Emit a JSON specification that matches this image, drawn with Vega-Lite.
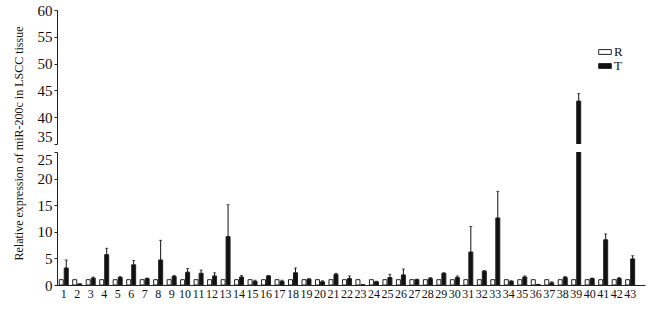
{
  "$schema": "https://vega.github.io/schema/vega-lite/v6.json",
  "background": "white",
  "padding": {"left": 11, "top": 3, "right": 5, "bottom": 4},
  "bounds": "flush",
  "config": {
    "font": "Liberation Serif",
    "view": {"stroke": null},
    "axis": {"labelFont": "Liberation Serif", "titleFont": "Liberation Serif", "labelColor": "#111", "titleColor": "#111", "domainColor": "#222", "tickColor": "#222", "grid": false, "titleFontWeight": "normal", "labelOverlap": false},
    "legend": {"labelFont": "Liberation Serif"}
  },
  "data": {
    "values": [
      {"id": 1, "g": "R", "v": 1, "hi": 1}, {"id": 1, "g": "T", "v": 3.2, "hi": 4.7},
      {"id": 2, "g": "R", "v": 1, "hi": 1}, {"id": 2, "g": "T", "v": 0.2, "hi": 0.2},
      {"id": 3, "g": "R", "v": 1, "hi": 1}, {"id": 3, "g": "T", "v": 1.3, "hi": 1.5},
      {"id": 4, "g": "R", "v": 1, "hi": 1}, {"id": 4, "g": "T", "v": 5.7, "hi": 6.9},
      {"id": 5, "g": "R", "v": 1, "hi": 1}, {"id": 5, "g": "T", "v": 1.4, "hi": 1.6},
      {"id": 6, "g": "R", "v": 1, "hi": 1}, {"id": 6, "g": "T", "v": 3.8, "hi": 4.6},
      {"id": 7, "g": "R", "v": 1, "hi": 1}, {"id": 7, "g": "T", "v": 1.2, "hi": 1.3},
      {"id": 8, "g": "R", "v": 1, "hi": 1}, {"id": 8, "g": "T", "v": 4.7, "hi": 8.4},
      {"id": 9, "g": "R", "v": 1, "hi": 1}, {"id": 9, "g": "T", "v": 1.6, "hi": 1.8},
      {"id": 10, "g": "R", "v": 1, "hi": 1}, {"id": 10, "g": "T", "v": 2.4, "hi": 3.1},
      {"id": 11, "g": "R", "v": 1, "hi": 1}, {"id": 11, "g": "T", "v": 2.2, "hi": 2.8},
      {"id": 12, "g": "R", "v": 1, "hi": 1}, {"id": 12, "g": "T", "v": 1.7, "hi": 2.3},
      {"id": 13, "g": "R", "v": 1, "hi": 1}, {"id": 13, "g": "T", "v": 9.1, "hi": 15.1},
      {"id": 14, "g": "R", "v": 1, "hi": 1}, {"id": 14, "g": "T", "v": 1.5, "hi": 1.8},
      {"id": 15, "g": "R", "v": 1, "hi": 1}, {"id": 15, "g": "T", "v": 0.7, "hi": 0.9},
      {"id": 16, "g": "R", "v": 1, "hi": 1}, {"id": 16, "g": "T", "v": 1.7, "hi": 1.8},
      {"id": 17, "g": "R", "v": 1, "hi": 1}, {"id": 17, "g": "T", "v": 0.7, "hi": 0.9},
      {"id": 18, "g": "R", "v": 1, "hi": 1}, {"id": 18, "g": "T", "v": 2.3, "hi": 3.2},
      {"id": 19, "g": "R", "v": 1, "hi": 1}, {"id": 19, "g": "T", "v": 1.1, "hi": 1.2},
      {"id": 20, "g": "R", "v": 1, "hi": 1}, {"id": 20, "g": "T", "v": 0.6, "hi": 0.8},
      {"id": 21, "g": "R", "v": 1, "hi": 1}, {"id": 21, "g": "T", "v": 2.0, "hi": 2.2},
      {"id": 22, "g": "R", "v": 1, "hi": 1}, {"id": 22, "g": "T", "v": 1.2, "hi": 1.7},
      {"id": 23, "g": "R", "v": 1, "hi": 1}, {"id": 23, "g": "T", "v": 0.05, "hi": 0.05},
      {"id": 24, "g": "R", "v": 1, "hi": 1}, {"id": 24, "g": "T", "v": 0.6, "hi": 0.7},
      {"id": 25, "g": "R", "v": 1, "hi": 1}, {"id": 25, "g": "T", "v": 1.4, "hi": 2.0},
      {"id": 26, "g": "R", "v": 1, "hi": 1}, {"id": 26, "g": "T", "v": 1.9, "hi": 3.0},
      {"id": 27, "g": "R", "v": 1, "hi": 1}, {"id": 27, "g": "T", "v": 1.0, "hi": 1.1},
      {"id": 28, "g": "R", "v": 1, "hi": 1}, {"id": 28, "g": "T", "v": 1.2, "hi": 1.4},
      {"id": 29, "g": "R", "v": 1, "hi": 1}, {"id": 29, "g": "T", "v": 2.2, "hi": 2.3},
      {"id": 30, "g": "R", "v": 1, "hi": 1}, {"id": 30, "g": "T", "v": 1.4, "hi": 1.7},
      {"id": 31, "g": "R", "v": 1, "hi": 1}, {"id": 31, "g": "T", "v": 6.2, "hi": 11.0},
      {"id": 32, "g": "R", "v": 1, "hi": 1}, {"id": 32, "g": "T", "v": 2.6, "hi": 2.7},
      {"id": 33, "g": "R", "v": 1, "hi": 1}, {"id": 33, "g": "T", "v": 12.6, "hi": 17.6},
      {"id": 34, "g": "R", "v": 1, "hi": 1}, {"id": 34, "g": "T", "v": 0.7, "hi": 0.8},
      {"id": 35, "g": "R", "v": 1, "hi": 1}, {"id": 35, "g": "T", "v": 1.5, "hi": 1.7},
      {"id": 36, "g": "R", "v": 1, "hi": 1}, {"id": 36, "g": "T", "v": 0.1, "hi": 0.1},
      {"id": 37, "g": "R", "v": 1, "hi": 1}, {"id": 37, "g": "T", "v": 0.4, "hi": 0.6},
      {"id": 38, "g": "R", "v": 1, "hi": 1}, {"id": 38, "g": "T", "v": 1.4, "hi": 1.6},
      {"id": 39, "g": "R", "v": 1, "hi": 1}, {"id": 39, "g": "T", "v": 43.0, "hi": 44.4},
      {"id": 40, "g": "R", "v": 1, "hi": 1}, {"id": 40, "g": "T", "v": 1.2, "hi": 1.3},
      {"id": 41, "g": "R", "v": 1, "hi": 1}, {"id": 41, "g": "T", "v": 8.5, "hi": 9.6},
      {"id": 42, "g": "R", "v": 1, "hi": 1}, {"id": 42, "g": "T", "v": 1.2, "hi": 1.4},
      {"id": 43, "g": "R", "v": 1, "hi": 1}, {"id": 43, "g": "T", "v": 4.9, "hi": 5.5}
    ]
  },
  "spacing": 8,
  "vconcat": [
    {
      "width": 588,
      "height": 134,
      "layer": [
        {
          "mark": {"type": "bar", "clip": true, "stroke": "#222", "strokeWidth": 1},
          "encoding": {
            "x": {"field": "id", "type": "ordinal", "sort": null, "axis": null, "scale": {"paddingInner": 0, "paddingOuter": 0.3, "align": 0}},
            "xOffset": {"field": "g", "type": "nominal", "scale": {"paddingInner": 0.2, "paddingOuter": 0.45}},
            "y": {"field": "v", "type": "quantitative", "scale": {"domain": [35, 60], "nice": false, "zero": false}, "axis": {"values": [35, 40, 45, 50, 55, 60], "title": null, "labelFontSize": 15, "tickSize": 3, "labelPadding": 2, "labelBaseline": {"expr": "datum.value == 35 ? 'bottom' : 'middle'"}}},
            "fill": {"field": "g", "type": "nominal", "scale": {"domain": ["R", "T"], "range": ["white", "#111"]},
              "legend": {"title": null, "orient": "none", "legendX": 541, "legendY": 35, "symbolType": "M-1,-0.38H1V0.38H-1Z", "symbolSize": 160, "symbolStrokeColor": "#222", "symbolStrokeWidth": 1, "labelFontSize": 13, "labelColor": "#111", "rowPadding": -3, "labelOffset": 2}}
          }
        },
        {
          "transform": [{"filter": "datum.g == 'T'"}],
          "mark": {"type": "rule", "clip": true, "color": "#111", "strokeWidth": 1},
          "encoding": {
            "x": {"field": "id", "type": "ordinal", "sort": null, "axis": null},
            "xOffset": {"field": "g", "type": "nominal"},
            "y": {"field": "v", "type": "quantitative", "axis": {"values": [35, 40, 45, 50, 55, 60], "title": null, "labelFontSize": 15, "tickSize": 3, "labelPadding": 2, "labelBaseline": {"expr": "datum.value == 35 ? 'bottom' : 'middle'"}}},
            "y2": {"field": "hi"}
          }
        },
        {
          "transform": [{"filter": "datum.g == 'T'"}],
          "mark": {"type": "tick", "clip": true, "color": "#111", "size": 3, "thickness": 1, "orient": "horizontal"},
          "encoding": {
            "x": {"field": "id", "type": "ordinal", "sort": null, "axis": null},
            "xOffset": {"field": "g", "type": "nominal"},
            "y": {"field": "hi", "type": "quantitative", "axis": {"values": [35, 40, 45, 50, 55, 60], "title": null, "labelFontSize": 15, "tickSize": 3, "labelPadding": 2, "labelBaseline": {"expr": "datum.value == 35 ? 'bottom' : 'middle'"}}}
          }
        }
      ]
    },
    {
      "width": 588,
      "height": 133,
      "layer": [
        {
          "mark": {"type": "bar", "clip": true, "stroke": "#222", "strokeWidth": 1},
          "encoding": {
            "x": {"field": "id", "type": "ordinal", "sort": null, "scale": {"paddingInner": 0, "paddingOuter": 0.3, "align": 0},
              "axis": {"title": null, "labelAngle": 0, "labelFontSize": 12, "ticks": false, "labelPadding": 3, "labelColor": "#111"}},
            "xOffset": {"field": "g", "type": "nominal", "scale": {"paddingInner": 0.2, "paddingOuter": 0.45}},
            "y": {"field": "v", "type": "quantitative", "scale": {"domain": [0, 25], "nice": false},
              "axis": {"values": [0, 5, 10, 15, 20, 25], "title": "Relative expression of miR-200c in LSCC tissue", "titleFontSize": 12, "titleY": -9, "titlePadding": 12, "labelFontSize": 15, "tickSize": 3, "labelPadding": 2, "labelBaseline": {"expr": "datum.value == 25 ? 'top' : 'middle'"}}},
            "fill": {"field": "g", "type": "nominal", "scale": {"domain": ["R", "T"], "range": ["white", "#111"]}, "legend": null}
          }
        },
        {
          "transform": [{"filter": "datum.g == 'T'"}],
          "mark": {"type": "rule", "clip": true, "color": "#111", "strokeWidth": 1},
          "encoding": {
            "x": {"field": "id", "type": "ordinal", "sort": null, "axis": {"title": null, "labelAngle": 0, "labelFontSize": 12, "ticks": false, "labelPadding": 3, "labelColor": "#111"}},
            "xOffset": {"field": "g", "type": "nominal"},
            "y": {"field": "v", "type": "quantitative", "axis": {"values": [0, 5, 10, 15, 20, 25], "title": "Relative expression of miR-200c in LSCC tissue", "titleFontSize": 12, "titleY": -9, "titlePadding": 12, "labelFontSize": 15, "tickSize": 3, "labelPadding": 2, "labelBaseline": {"expr": "datum.value == 25 ? 'top' : 'middle'"}}},
            "y2": {"field": "hi"}
          }
        },
        {
          "transform": [{"filter": "datum.g == 'T'"}],
          "mark": {"type": "tick", "clip": true, "color": "#111", "size": 3, "thickness": 1, "orient": "horizontal"},
          "encoding": {
            "x": {"field": "id", "type": "ordinal", "sort": null, "axis": {"title": null, "labelAngle": 0, "labelFontSize": 12, "ticks": false, "labelPadding": 3, "labelColor": "#111"}},
            "xOffset": {"field": "g", "type": "nominal"},
            "y": {"field": "hi", "type": "quantitative", "axis": {"values": [0, 5, 10, 15, 20, 25], "title": "Relative expression of miR-200c in LSCC tissue", "titleFontSize": 12, "titleY": -9, "titlePadding": 12, "labelFontSize": 15, "tickSize": 3, "labelPadding": 2, "labelBaseline": {"expr": "datum.value == 25 ? 'top' : 'middle'"}}}
          }
        }
      ]
    }
  ]
}
